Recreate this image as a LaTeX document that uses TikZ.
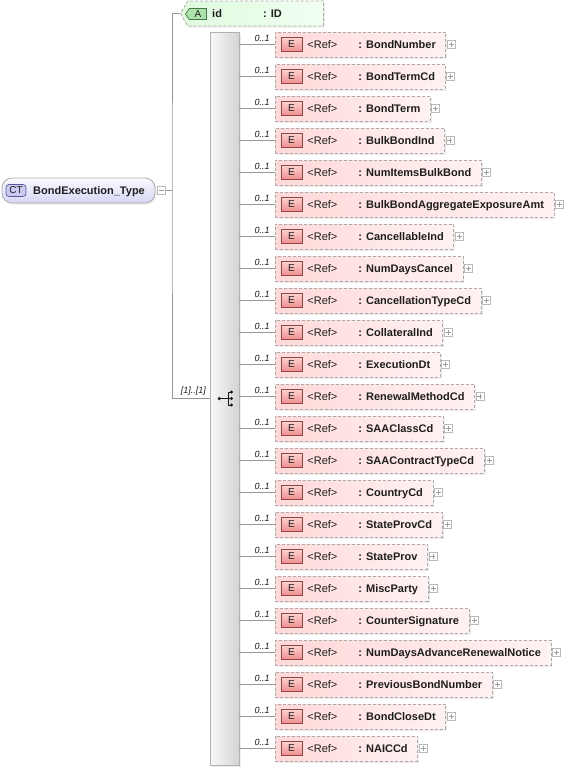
\documentclass[tikz,border=0pt]{standalone}
\usepackage{fontspec}
\setmainfont{Liberation Sans}
\usepackage{tikz}
\usetikzlibrary{shapes.symbols}
\usetikzlibrary{shadows}
\usepackage{xcolor}

\definecolor{lineGray}{RGB}{150,150,150}
\definecolor{boxGray}{RGB}{170,170,170}
\definecolor{textDark}{RGB}{30,30,30}
\definecolor{ctTop}{RGB}{250,250,255}
\definecolor{ctBot}{RGB}{214,214,246}
\definecolor{ctBadge}{RGB}{202,202,242}
\definecolor{ctBadgeLine}{RGB}{90,90,150}
\definecolor{attrLeft}{RGB}{222,250,222}
\definecolor{attrRight}{RGB}{242,255,242}
\definecolor{attrBadge}{RGB}{172,226,172}
\definecolor{attrBadgeLine}{RGB}{70,120,70}
\definecolor{elemLeft}{RGB}{255,216,216}
\definecolor{elemRight}{RGB}{255,242,242}
\definecolor{elemBadgeTop}{RGB}{252,210,210}
\definecolor{elemBadgeBot}{RGB}{238,140,140}
\definecolor{elemBadgeLine}{RGB}{140,70,70}
\definecolor{seqLeft}{RGB}{248,248,248}
\definecolor{seqRight}{RGB}{212,212,212}
\newcommand{\refsty}{\fontsize{11}{13}\selectfont\mdseries}

\begin{document}
\begin{tikzpicture}[x=1pt,y=-1pt]
\tikzstyle{conn}=[draw=lineGray, line width=0.8pt]
\tikzstyle{softshadow}=[drop shadow={opacity=0.15, shadow xshift=1.5pt, shadow yshift=-1.5pt}]
\tikzstyle{namefont}=[font=\fontsize{11}{13}\selectfont\bfseries, text=textDark, inner sep=0pt, text height=8pt, text depth=0.5pt]
\tikzstyle{mult}=[font=\fontsize{9}{11}\selectfont\itshape, text=textDark, inner sep=0.5pt]
\tikzstyle{plusbox}=[draw=gray!55, fill=white, line width=0.6pt, minimum size=8pt, inner sep=0pt,
  path picture={\draw[gray!75, line width=0.6pt]
    ([xshift=-2.5pt]path picture bounding box.center) -- ([xshift=2.5pt]path picture bounding box.center)
    ([yshift=-2.5pt]path picture bounding box.center) -- ([yshift=2.5pt]path picture bounding box.center);}]
\tikzstyle{minusbox}=[draw=gray!55, fill=white, line width=0.6pt, minimum size=8pt, inner sep=0pt,
  path picture={\draw[gray!75, line width=0.6pt]
    ([xshift=-2.5pt]path picture bounding box.center) -- ([xshift=2.5pt]path picture bounding box.center);}]
\tikzstyle{ctbox}=[draw=gray!65, line width=0.8pt, rounded corners=10pt, top color=ctTop, bottom color=ctBot,
  minimum width=153pt, minimum height=25pt, inner sep=0pt, softshadow]
\tikzstyle{ctbadge}=[draw=ctBadgeLine, line width=0.7pt, rounded corners=3pt, fill=ctBadge,
  minimum width=20pt, minimum height=12pt, inner sep=0pt, font=\fontsize{10}{12}\selectfont, text=textDark]
\tikzstyle{attrbox}=[signal, signal to=west, signal pointer angle=120, draw=boxGray, dash pattern=on 3pt off 2pt,
  line width=0.8pt, left color=attrLeft, right color=attrRight, minimum width=143pt, minimum height=25pt,
  inner sep=0pt, anchor=west, softshadow]
\tikzstyle{abadge}=[signal, signal to=west, signal pointer angle=110, draw=attrBadgeLine, line width=0.7pt,
  fill=attrBadge, minimum width=21pt, minimum height=11pt, inner sep=0pt, anchor=west,
  font=\fontsize{10}{12}\selectfont, text=textDark]
\tikzstyle{seqbox}=[draw=gray!60, line width=0.8pt, left color=seqLeft, right color=seqRight,
  minimum width=29pt, minimum height=733pt, inner sep=0pt, softshadow]
\tikzstyle{seqmark}=[draw=gray!20!black, line width=0.8pt]
\tikzstyle{elem}=[draw=boxGray, dash pattern=on 3pt off 2pt, line width=0.8pt, left color=elemLeft,
  right color=elemRight, minimum height=25pt, inner xsep=10pt, inner ysep=0pt, anchor=west,
  text height=8pt, text depth=0.5pt, font=\fontsize{11}{13}\selectfont\bfseries, text=textDark, softshadow,
  execute at begin node={\hspace*{22pt}\makebox[51pt][l]{\refsty<Ref>}}]
\tikzstyle{ebadge}=[draw=elemBadgeLine, line width=0.6pt, top color=elemBadgeTop, bottom color=elemBadgeBot,
  minimum width=21pt, minimum height=14pt, inner sep=0pt, font=\fontsize{10}{12}\selectfont, text=textDark]

\useasboundingbox (0,0) rectangle (564,769);

% complex type
\node[ctbox](ct) at (78.5,190.5){};
\node[ctbadge](ctb) at (16,190.5){CT};
\node[namefont,anchor=west](ctn) at (33,190.5){BondExecution\_Type};
\node[minusbox](ctm) at (161.5,190.5){};
\coordinate (j) at (172,190.5);

% attribute
\node[attrbox](attr) at (180,13.5){};
\node[abadge](ab) at (185,14){A};
\node[namefont,anchor=west](aid) at (212,14){id};
\node[namefont,anchor=west](atype) at (263,14){: ID};

% sequence
\node[seqbox](seq) at (224.5,398.5){};
\draw[seqmark] ([xshift=-5.2pt]seq.center) -- ([xshift=3.5pt]seq.center);
\draw[seqmark] ([xshift=3.5pt,yshift=6.5pt]seq.center) -- ([xshift=3.5pt,yshift=-6.5pt]seq.center);
\draw[seqmark] ([xshift=3.5pt,yshift=6.5pt]seq.center) -- ([xshift=7pt,yshift=6.5pt]seq.center);
\draw[seqmark] ([xshift=3.5pt,yshift=-6.5pt]seq.center) -- ([xshift=7pt,yshift=-6.5pt]seq.center);
\draw[seqmark] ([xshift=3.5pt]seq.center) -- ([xshift=7pt]seq.center);
\fill[gray!20!black] ([xshift=-5.2pt]seq.center) circle (1.8pt);
\fill[gray!20!black] ([xshift=7pt,yshift=6.5pt]seq.center) circle (1.7pt);
\fill[gray!20!black] ([xshift=7pt]seq.center) circle (1.7pt);
\fill[gray!20!black] ([xshift=7pt,yshift=-6.5pt]seq.center) circle (1.7pt);

\draw[conn] (ctm.east) -- (j);
\draw[conn] (attr.west) -| (j) |- (seq.west);
\node[mult,anchor=south east](seqm) at ([xshift=-3pt,yshift=2pt]seq.west){[1]..[1]};

% elements
\node[elem](e1) at (275,44.5){: BondNumber};
\node[elem](e2) at (275,76.5){: BondTermCd};
\node[elem](e3) at (275,108.5){: BondTerm};
\node[elem](e4) at (275,140.5){: BulkBondInd};
\node[elem](e5) at (275,172.5){: NumItemsBulkBond};
\node[elem](e6) at (275,204.5){: BulkBondAggregateExposureAmt};
\node[elem](e7) at (275,236.5){: CancellableInd};
\node[elem](e8) at (275,268.5){: NumDaysCancel};
\node[elem](e9) at (275,300.5){: CancellationTypeCd};
\node[elem](e10) at (275,332.5){: CollateralInd};
\node[elem](e11) at (275,364.5){: ExecutionDt};
\node[elem](e12) at (275,396.5){: RenewalMethodCd};
\node[elem](e13) at (275,428.5){: SAAClassCd};
\node[elem](e14) at (275,460.5){: SAAContractTypeCd};
\node[elem](e15) at (275,492.5){: CountryCd};
\node[elem](e16) at (275,524.5){: StateProvCd};
\node[elem](e17) at (275,556.5){: StateProv};
\node[elem](e18) at (275,588.5){: MiscParty};
\node[elem](e19) at (275,620.5){: CounterSignature};
\node[elem](e20) at (275,652.5){: NumDaysAdvanceRenewalNotice};
\node[elem](e21) at (275,684.5){: PreviousBondNumber};
\node[elem](e22) at (275,716.5){: BondCloseDt};
\node[elem](e23) at (275,748.5){: NAICCd};

\foreach \i in {1,...,23}{
  \node[ebadge](b\i) at ([xshift=16.5pt]e\i.west){E};
  \node[plusbox](p\i) at ([xshift=5pt]e\i.east){};
  \draw[conn] (seq.east |- e\i.west) -- node[mult,pos=0.64,above=2pt]{0..1} (e\i.west);
}
\end{tikzpicture}
\end{document}
